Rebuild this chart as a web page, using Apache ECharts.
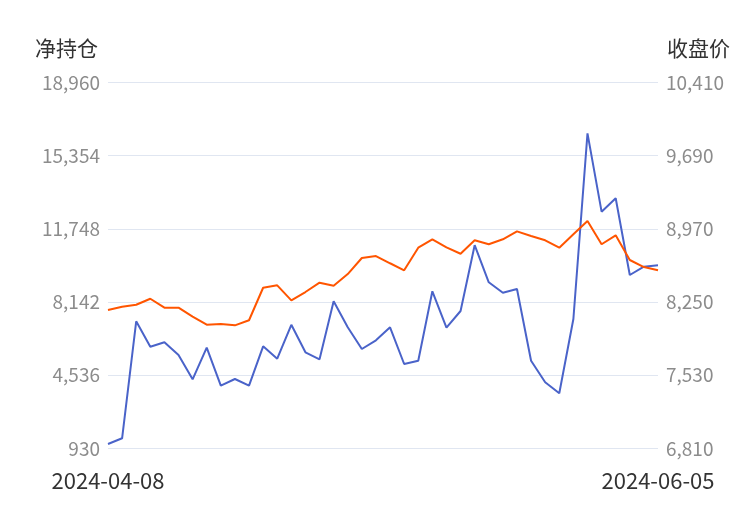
<!DOCTYPE html>
<html><head><meta charset="utf-8">
<script src="https://cdn.jsdelivr.net/npm/echarts@6/dist/echarts.min.js"></script>
<style>html,body{margin:0;padding:0;background:#fff}#c{width:750px;height:510px}</style>
</head><body><div id="c"></div>
<script>
const dates = ["2024-04-08","2024-04-09","2024-04-10","2024-04-11","2024-04-12","2024-04-15","2024-04-16","2024-04-17","2024-04-18","2024-04-19","2024-04-22","2024-04-23","2024-04-24","2024-04-25","2024-04-26","2024-04-29","2024-04-30","2024-05-06","2024-05-07","2024-05-08","2024-05-09","2024-05-10","2024-05-13","2024-05-14","2024-05-15","2024-05-16","2024-05-17","2024-05-20","2024-05-21","2024-05-22","2024-05-23","2024-05-24","2024-05-27","2024-05-28","2024-05-29","2024-05-30","2024-05-31","2024-06-03","2024-06-04","2024-06-05"];
const netPosition = [1142,1423,7190,5938,6155,5529,4331,5889,4016,4346,4016,5958,5346,7017,5662,5317,8176,6894,5825,6253,6894,5085,5248,8669,6874,7698,10941,9112,8600,8782,5248,4183,3641,7303,16456,12592,13253,9472,9881,9950];
const closePrice = [8171,8203,8223,8282,8194,8194,8105,8026,8033,8020,8070,8390,8414,8266,8348,8440,8410,8525,8683,8702,8631,8562,8784,8867,8788,8725,8858,8818,8867,8945,8899,8857,8784,8916,9047,8818,8906,8663,8594,8562];
const leftTicks = [930,4536,8142,11748,15354,18960];
const rightTicks = [6810,7530,8250,8970,9690,10410];
const FONT = '"Noto Sans CJK SC", "Noto Sans", sans-serif';
const chart = echarts.init(document.getElementById('c'));
const fmt = v => Math.round(v).toLocaleString('en-US');
chart.setOption({
  animation: false,
  grid: {left: 108, right: 92, top: 82.5, bottom: 61.7, containLabel: false},
  xAxis: {
    type: 'category', data: dates, boundaryGap: false,
    axisLine: {show: false}, axisTick: {show: false},
    axisLabel: {
      interval: (i) => i === 0 || i === dates.length - 1,
      color: '#333', fontSize: 22, fontFamily: FONT, margin: 21
    }
  },
  yAxis: [{
    type: 'value', min: leftTicks[0], max: leftTicks[5], interval: leftTicks[1]-leftTicks[0],
    name: '净持仓', nameLocation: 'end', nameGap: 24,
    nameTextStyle: {color: '#333', fontSize: 21, fontFamily: FONT, align: 'right', padding: [0, 10, 0, 0]},
    axisLine: {show: false}, axisTick: {show: false},
    splitLine: {lineStyle: {color: '#e0e6f1'}},
    axisLabel: {color: '#8c8c8c', fontSize: 19, fontFamily: FONT, margin: 8, formatter: fmt}
  },{
    type: 'value', min: rightTicks[0], max: rightTicks[5], interval: rightTicks[1]-rightTicks[0],
    name: '收盘价', nameLocation: 'end', nameGap: 24,
    nameTextStyle: {color: '#333', fontSize: 21, fontFamily: FONT, align: 'left', padding: [0, 0, 0, 9]},
    axisLine: {show: false}, axisTick: {show: false},
    splitLine: {show: false},
    axisLabel: {color: '#8c8c8c', fontSize: 19, fontFamily: FONT, margin: 8, formatter: fmt}
  }],
  series: [{
    type: 'line', data: netPosition, yAxisIndex: 0, symbol: 'none',
    lineStyle: {color: '#4a63c9', width: 2}, itemStyle: {color: '#4a63c9'}
  },{
    type: 'line', data: closePrice, yAxisIndex: 1, symbol: 'none',
    lineStyle: {color: '#ff5500', width: 2}, itemStyle: {color: '#ff5500'}
  }]
});
</script></body></html>
